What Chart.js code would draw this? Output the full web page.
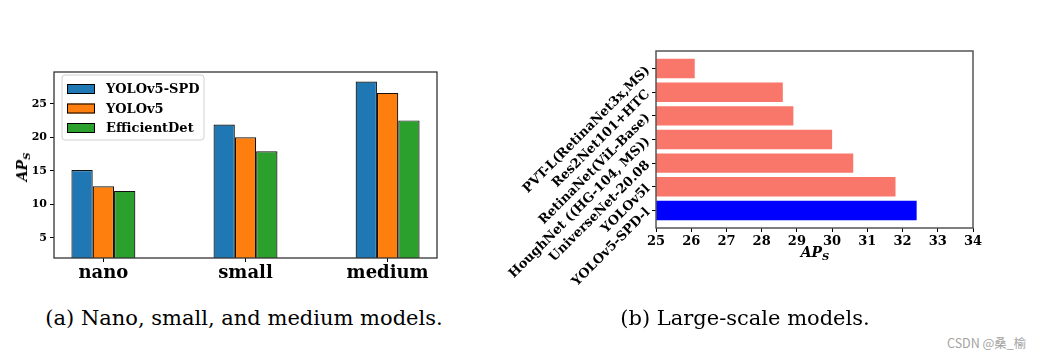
<!DOCTYPE html>
<html>
<head>
<meta charset="utf-8">
<script src="https://cdn.jsdelivr.net/npm/chart.js@4"></script>
<style>
  html, body { margin:0; padding:0; background:#fff; }
  body { width:1043px; height:356px; position:relative; overflow:hidden; font-family:"DejaVu Serif", serif; }
  .box { position:absolute; }
  .lbl { position:absolute; white-space:nowrap; color:#000; }
  .ttl { font-family:"DejaVu Serif", serif; font-style:italic; font-weight:bold; font-size:14px; }
  .ttl sub { font-size:10px; vertical-align:-3px; }
  .cap { font-family:"DejaVu Serif", serif; font-size:21px; transform:translate(-50%,-50%); }
</style>
</head>
<body>
<div class="box" style="left:0;top:50px;width:470px;height:245px;"><canvas id="c1"></canvas></div>
<div class="box" style="left:470px;top:20px;width:560px;height:290px;"><canvas id="c2"></canvas></div>

<div class="lbl ttl" style="left:23px;top:167px;transform:translate(-50%,-50%) rotate(-90deg);">AP<sub>S</sub></div>
<div class="lbl ttl" style="left:815px;top:253px;transform:translate(-50%,-50%);">AP<sub>S</sub></div>
<div class="lbl cap" style="left:244px;top:318px;">(a) Nano, small, and medium models.</div>
<div class="lbl cap" style="left:745px;top:318px;">(b) Large-scale models.</div>
<div class="lbl" style="left:947px;top:333px;font-family:'Noto Sans CJK SC','Noto Sans',sans-serif;font-size:12.5px;color:#a3a3a3;">CSDN @桑_榆</div>

<script>
// ---------- data: left chart ----------
const sizeCategories = ['nano', 'small', 'medium'];
const seriesNames = ['YOLOv5-SPD', 'YOLOv5', 'EfficientDet'];
const spdValues = [15.1, 21.9, 28.3];
const yolov5Values = [12.7, 20.0, 26.6];
const effdetValues = [12.0, 17.9, 22.5];
const leftYTicks = [5, 10, 15, 20, 25];

// ---------- data: right chart (bottom to top) ----------
const largeModels = ['YOLOv5-SPD-l', 'YOLOv5l', 'UniverseNet-20.08', 'HoughNet ((HG-104, MS))', 'RetinaNet(ViL-Base)', 'Res2Net101+HTC', 'PVT-L(RetinaNet3x,MS)'];
const largeValues = [32.4, 31.8, 30.6, 30.0, 28.9, 28.6, 26.1];
const rightXTicks = [25, 26, 27, 28, 29, 30, 31, 32, 33, 34];

const SERIF = '"DejaVu Serif", serif';

const framePlugin = {
  id: 'frame',
  afterDatasetsDraw(chart, args, o) {
    const { ctx, chartArea: a } = chart;
    ctx.save();
    ctx.strokeStyle = o.color;
    ctx.lineWidth = o.width;
    ctx.strokeRect(a.left, a.top, a.right - a.left, a.bottom - a.top);
    ctx.restore();
  }
};

const boxLegend = {
  id: 'boxLegend',
  afterDraw(chart, args, o) {
    if (!o.show) return;
    const { ctx, chartArea: a } = chart;
    const x0 = a.left + 8, y0 = a.top + 3, w = 142, h = 65, r = 3;
    ctx.save();
    ctx.beginPath();
    ctx.moveTo(x0 + r, y0);
    ctx.arcTo(x0 + w, y0, x0 + w, y0 + h, r);
    ctx.arcTo(x0 + w, y0 + h, x0, y0 + h, r);
    ctx.arcTo(x0, y0 + h, x0, y0, r);
    ctx.arcTo(x0, y0, x0 + w, y0, r);
    ctx.closePath();
    ctx.fillStyle = 'rgba(255,255,255,0.85)';
    ctx.fill();
    ctx.strokeStyle = '#d0d0d0';
    ctx.lineWidth = 1;
    ctx.stroke();
    chart.data.datasets.forEach((ds, i) => {
      const cy = y0 + 14 + i * 19.5;
      ctx.fillStyle = ds.backgroundColor;
      ctx.fillRect(x0 + 5, cy - 5, 28, 10);
      ctx.strokeStyle = '#000';
      ctx.lineWidth = 1;
      ctx.strokeRect(x0 + 5.5, cy - 4.5, 27, 9);
      ctx.fillStyle = '#000';
      ctx.font = 'bold 13px ' + SERIF;
      ctx.textBaseline = 'middle';
      ctx.textAlign = 'left';
      ctx.fillText(ds.label, x0 + 44, cy + 1);
    });
    ctx.restore();
  }
};

const tickGrid = { display: true, drawOnChartArea: false, drawTicks: true, tickLength: 4, color: '#000', lineWidth: 1, offset: false };

// ---------- left chart ----------
const colors = ['#1f77b4', '#ff7f0e', '#2ca02c'];
const seriesValues = [spdValues, yolov5Values, effdetValues];
new Chart(document.getElementById('c1'), {
  type: 'bar',
  data: {
    datasets: seriesNames.map((name, j) => ({
      label: name,
      data: seriesValues[j].map((v, i) => ({ x: i, y: v })),
      backgroundColor: colors[j],
      borderColor: '#111',
      borderWidth: 1.2,
      borderSkipped: false,
      categoryPercentage: 0.45,
      barPercentage: 1.0
    }))
  },
  options: {
    responsive: true,
    maintainAspectRatio: false,
    animation: false,
    layout: { padding: { left: 0, top: 22, right: 33, bottom: 0 } },
    plugins: {
      legend: { display: false },
      tooltip: { enabled: false },
      frame: { color: '#333', width: 1.3 },
      boxLegend: { show: true }
    },
    scales: {
      x: {
        type: 'linear', min: -0.3475, max: 2.3475, offset: false,
        grid: tickGrid, border: { display: false },
        afterBuildTicks: s => { s.ticks = sizeCategories.map((_, i) => ({ value: i })); },
        afterFit: s => { s.height = 37; s.paddingLeft = 0; s.paddingRight = 0; },
        ticks: { callback: v => sizeCategories[v], color: '#000', padding: 1, maxRotation: 0, font: { family: SERIF, weight: 'bold', size: 18 } }
      },
      y: {
        type: 'linear', min: 2, max: 29.715,
        grid: tickGrid, border: { display: false },
        afterBuildTicks: s => { s.ticks = leftYTicks.map(v => ({ value: v })); },
        afterFit: s => { s.width = 54; s.paddingTop = 0; s.paddingBottom = 0; },
        ticks: { color: '#000', padding: 3, font: { family: SERIF, weight: 'bold', size: 11 } }
      }
    }
  },
  plugins: [framePlugin, boxLegend]
});

// ---------- right chart ----------
new Chart(document.getElementById('c2'), {
  type: 'bar',
  data: {
    datasets: [{
      label: 'APs',
      data: largeValues.map((v, i) => ({ x: v, y: i })),
      backgroundColor: largeModels.map((_, i) => i === 0 ? '#0000ff' : '#f9766b'),
      borderWidth: 0,
      categoryPercentage: 1.0,
      barPercentage: 0.82
    }]
  },
  options: {
    indexAxis: 'y',
    responsive: true,
    maintainAspectRatio: false,
    animation: false,
    layout: { padding: { left: 0, top: 31, right: 57, bottom: 0 } },
    plugins: {
      legend: { display: false },
      tooltip: { enabled: false },
      frame: { color: '#555', width: 1.5 },
      boxLegend: { show: false }
    },
    scales: {
      x: {
        type: 'linear', min: 25, max: 34, offset: false,
        grid: tickGrid, border: { display: false },
        afterBuildTicks: s => { s.ticks = rightXTicks.map(v => ({ value: v })); },
        afterFit: s => { s.height = 82; s.paddingLeft = 0; s.paddingRight = 0; },
        ticks: { color: '#000', padding: 2, maxRotation: 0, font: { family: SERIF, weight: 'bold', size: 13 } }
      },
      y: {
        type: 'linear', min: -0.74, max: 6.74, offset: false,
        grid: tickGrid, border: { display: false },
        afterBuildTicks: s => { s.ticks = largeModels.map((_, i) => ({ value: i })); },
        afterFit: s => { s.width = 186; s.paddingTop = 0; s.paddingBottom = 0; },
        ticks: { callback: v => largeModels[v], color: '#000', padding: 4, minRotation: 45, maxRotation: 45, font: { family: SERIF, weight: 'bold', size: 13 } }
      }
    }
  },
  plugins: [framePlugin, boxLegend]
});
</script>
</body>
</html>
